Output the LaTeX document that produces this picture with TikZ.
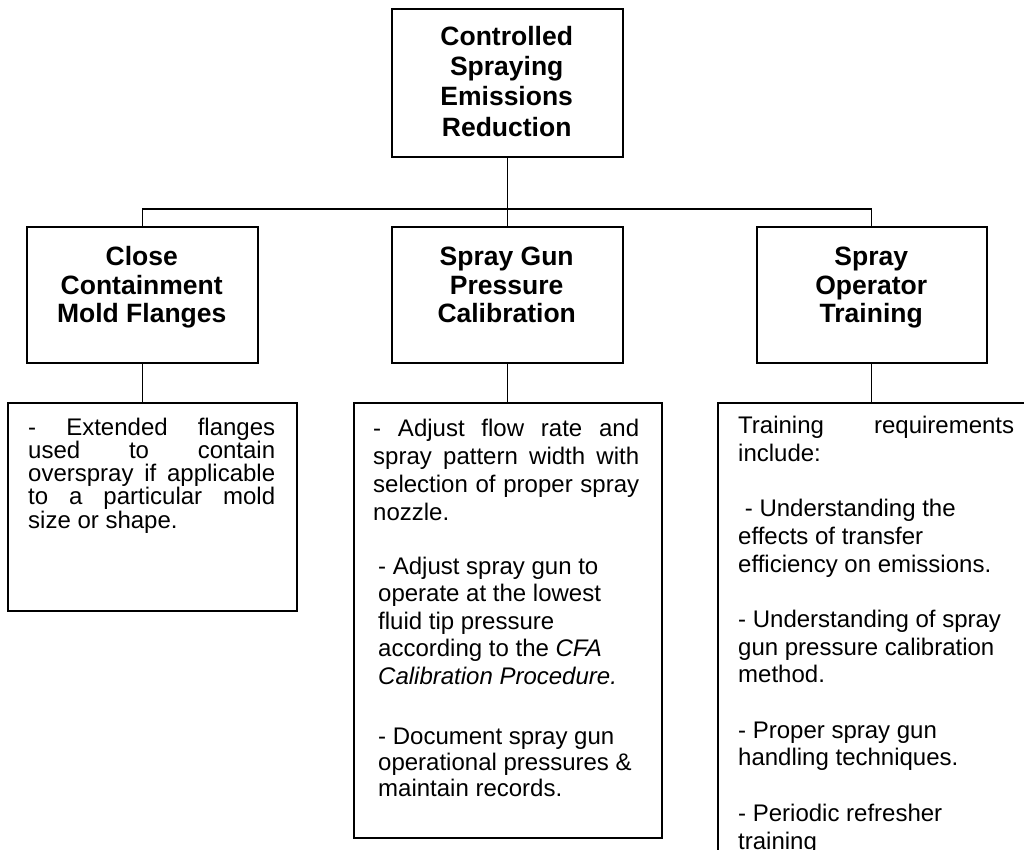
\documentclass[tikz,border=0pt]{standalone}
\usepackage{fontspec}
\setmainfont{Liberation Sans}
\newcommand{\headtxt}[3]{\parbox[t]{#1}{\centering\fontsize{26.5}{#2}\selectfont\bfseries #3}}
\newcommand{\bodytxt}[3]{\parbox[t]{#1}{\raggedright\setlength{\parindent}{0pt}\fontsize{24}{#2}\selectfont #3}}
\newcommand{\jl}[1]{\makebox[\linewidth][s]{#1}}
\begin{document}
\begin{tikzpicture}[x=1pt,y=-1pt,
  box/.style={draw=black, line width=1.6pt, rectangle, inner sep=0pt, anchor=north west},
  conn/.style={draw=black, line width=1.3pt},
  txt/.style={inner sep=0pt, anchor=base west}]
\useasboundingbox (0,0) rectangle (1024,849);
\begin{scope}
\clip (0,0) rectangle (1024,849);
% boxes
\node[box, minimum width=231pt, minimum height=148pt] (top) at (391,8) {};
\node[box, minimum width=231pt, minimum height=136pt] (ca) at (26,226) {};
\node[box, minimum width=231pt, minimum height=136pt] (cb) at (391,226) {};
\node[box, minimum width=230pt, minimum height=136pt] (cc) at (756,226) {};
\node[box, minimum width=289pt, minimum height=208pt] (da) at (7,402) {};
\node[box, minimum width=308pt, minimum height=435pt] (db) at (353,402) {};
\node[box, minimum width=400pt, minimum height=520pt] (dc) at (717,402) {};
% connectors
\draw[conn] (top.south) -- (cb.north);
\draw[conn] (ca.north) -- ++(0,-17) -| (cc.north);
\draw[conn] (ca.south) -- (ca.south |- da.north);
\draw[conn] (cb.south) -- (cb.south |- db.north);
\draw[conn] (cc.south) -- (cc.south |- dc.north);
% headings
\node[txt] (ttop) at (391,45.5) {\headtxt{231pt}{30.2pt}{Controlled\\Spraying\\Emissions\\Reduction}};
\node[txt] (tca) at (26,265.5) {\headtxt{231pt}{28.5pt}{Close\\Containment\\Mold Flanges}};
\node[txt] (tcb) at (391,265.5) {\headtxt{231pt}{28.5pt}{Spray Gun\\Pressure\\Calibration}};
\node[txt] (tcc) at (756,265.5) {\headtxt{230pt}{28.5pt}{Spray\\Operator\\Training}};
% body texts
\node[txt] (bda) at (28,435) {\bodytxt{247pt}{23.3pt}{\jl{- Extended flanges}\\\jl{used to contain}\\\jl{overspray if applicable}\\\jl{to a particular mold}\\size or shape.}};
\node[txt] (bdb1) at (373,436) {\bodytxt{266pt}{28pt}{\jl{- Adjust flow rate and}\\\jl{spray pattern width with}\\\jl{selection of proper spray}\\nozzle.}};
\node[txt] (bdb2) at (378,574) {\bodytxt{270pt}{27.5pt}{- Adjust spray gun to\\operate at the lowest\\fluid tip pressure\\according to the \textit{CFA}\\\textit{Calibration Procedure.}}};
\node[txt] (bdb3) at (378,744) {\bodytxt{270pt}{26pt}{- Document spray gun\\operational pressures \&\\maintain records.}};
\node[txt] (bdc) at (738,433.5) {\bodytxt{276pt}{27.7pt}{\jl{Training requirements}\\include:\\[27.7pt]\hspace*{6.7pt}- Understanding the\\effects of transfer\\efficiency on emissions.\\[27.7pt]- Understanding of spray\\gun pressure calibration\\method.\\[27.7pt]- Proper spray gun\\handling techniques.\\[27.7pt]- Periodic refresher\\training}};
\end{scope}
\end{tikzpicture}
\end{document}
